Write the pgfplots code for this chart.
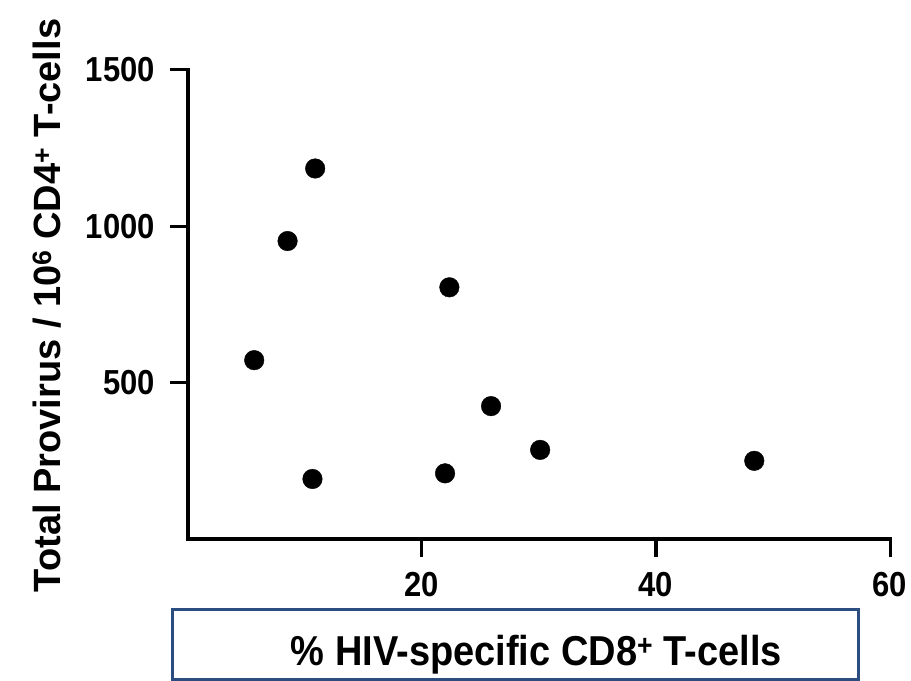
\documentclass[border=0pt]{standalone}
\usepackage{fontspec}
\setmainfont{Liberation Sans}
\usepackage{graphicx}
\usepackage{pgfplots}
\pgfplotsset{compat=1.18}
\definecolor{boxblue}{RGB}{44,77,127}
\newcommand{\tl}[1]{\scalebox{1}[1.12]{#1}}

\begin{document}
\begin{tikzpicture}
\useasboundingbox (-188bp,-142bp) rectangle (723bp,539bp);
\begin{axis}[
  at={(0,0)}, anchor=south west,
  scale only axis,
  width=702bp, height=469bp,
  xmin=0, xmax=60, ymin=0, ymax=1500,
  axis x line*=bottom, axis y line*=left,
  every outer x axis line/.append style={line width=4bp, -, line cap=rect},
  every outer y axis line/.append style={line width=4bp, -, line cap=rect},
  xtick={20,40,60}, ytick={500,1000,1500},
  xticklabels={\tl{20},\tl{40},\tl{60}},
  yticklabels={\tl{500},\tl{1000},\tl{1500}},
  tick align=outside,
  major tick length=18bp,
  every tick/.append style={line width=3bp, black},
  major tick style={line width=3bp, black},
  ticklabel style={font=\fontsize{31bp}{31bp}\selectfont\bfseries},
  xticklabel style={anchor=base, inner sep=0pt, yshift=-39bp},
  yticklabel style={anchor=east, inner sep=0pt, xshift=-15bp},
  xlabel={\scalebox{1}[1.1]{\%\ HIV-specific CD8\textsuperscript{+} T-cells}},
  ylabel={Total Provirus / 10\textsuperscript{6} CD4\textsuperscript{+} T-cells},
  label style={font=\fontsize{38bp}{38bp}\selectfont\bfseries},
  xlabel style={at={(axis description cs:0.4964,-0.2687)}, anchor=base, inner sep=0pt},
  ylabel style={at={(axis description cs:-0.1823,0.4979)}, anchor=base, rotate=0, inner sep=0pt},
  clip=false,
]
\addplot[only marks, mark=*, mark size=9.8bp, black] coordinates {
  (5.66,572) (8.51,953) (10.87,1185) (10.64,192) (22.34,805)
  (21.97,210) (25.9,425) (30.1,285) (48.4,250)
};
\end{axis}
\draw[boxblue, line width=3bp] (-15bp,-70bp) rectangle (670bp,-140bp);
\end{tikzpicture}
\end{document}
